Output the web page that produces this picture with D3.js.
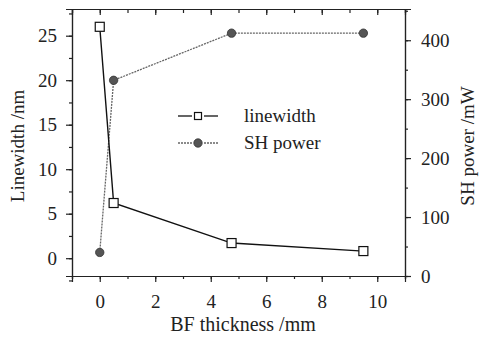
<!DOCTYPE html>
<meta charset="utf-8">
<style>
body { margin: 0; background: #fff; }
.axis path, .axis line { stroke: #222; stroke-width: 1.2; }
</style>
<body>
<svg width="479" height="338"></svg>
<script src="https://d3js.org/d3.v7.min.js"></script>
<script>
var svg = d3.select("svg");
var serif = "'Liberation Serif', 'Times New Roman', 'DejaVu Serif', serif";

// data
var thickness = [0, 0.5, 4.75, 9.5];
var linewidth = [26, 6.2, 1.7, 0.8];
var shPower = [40, 332, 412, 412];
var xTicks = [0, 2, 4, 6, 8, 10];
var yTicks = [0, 5, 10, 15, 20, 25];
var y2Ticks = [0, 100, 200, 300, 400];
var seriesNames = ["linewidth", "SH power"];

var pLeft = 72, pRight = 405, pTop = 9, pBottom = 276;

var x = d3.scaleLinear().domain([-1, 11]).range([pLeft, pRight]);
var y = d3.scaleLinear().domain([-2, 28]).range([pBottom, pTop]);
var y2 = d3.scaleLinear().domain([0, 453]).range([pBottom, pTop]);

// minor ticks first (no labels)
svg.append("g").attr("class", "axis")
  .attr("transform", "translate(0," + pBottom + ")")
  .call(d3.axisBottom(x).tickValues(d3.range(-1, 12, 1)).tickSize(3).tickFormat(""));
svg.append("g").attr("class", "axis")
  .attr("transform", "translate(0," + pTop + ")")
  .call(d3.axisTop(x).tickValues(d3.range(-1, 12, 1)).tickSize(-4).tickFormat(""));
svg.append("g").attr("class", "axis")
  .attr("transform", "translate(" + pLeft + ",0)")
  .call(d3.axisLeft(y).tickValues(d3.range(-2.5, 28, 2.5)).tickSize(3).tickFormat(""));
svg.append("g").attr("class", "axis")
  .attr("transform", "translate(" + pRight + ",0)")
  .call(d3.axisRight(y2).tickValues(d3.range(0, 451, 50)).tickSize(3).tickFormat(""));

// major ticks
svg.append("g").attr("class", "axis")
  .attr("transform", "translate(0," + pBottom + ")")
  .call(d3.axisBottom(x).tickValues(xTicks).tickSize(6).tickPadding(13));
svg.append("g").attr("class", "axis")
  .attr("transform", "translate(0," + pTop + ")")
  .call(d3.axisTop(x).tickValues(xTicks).tickSize(-6).tickFormat(""));
svg.append("g").attr("class", "axis")
  .attr("transform", "translate(" + pLeft + ",0)")
  .call(d3.axisLeft(y).tickValues(yTicks).tickSize(6).tickPadding(9));
svg.append("g").attr("class", "axis")
  .attr("transform", "translate(" + pRight + ",0)")
  .call(d3.axisRight(y2).tickValues(y2Ticks).tickSize(6).tickPadding(10));

svg.selectAll(".axis").attr("font-family", null).attr("font-size", null);
svg.selectAll(".axis text").style("font-size", "19px").style("font-family", serif).attr("fill", "#222");

// axis titles
svg.append("text").attr("x", 243).attr("y", 331).attr("text-anchor", "middle")
  .style("font-size", "20px").style("font-family", serif).attr("fill", "#222").text("BF thickness /mm");
svg.append("text").attr("transform", "translate(24,146) rotate(-90)")
  .attr("text-anchor", "middle").style("font-size", "19px").style("font-family", serif)
  .attr("fill", "#222").text("Linewidth /nm");
svg.append("text").attr("transform", "translate(474,146) rotate(-90)")
  .attr("text-anchor", "middle").style("font-size", "19px").style("font-family", serif)
  .attr("fill", "#222").text("SH power /mW");

// SH power series (dotted gray line, dark round markers)
var pts2 = thickness.map(function(d, i) { return [d, shPower[i]]; });
svg.append("path").datum(pts2)
  .attr("fill", "none").attr("stroke", "#666").attr("stroke-width", 1.3)
  .attr("stroke-dasharray", "2,1")
  .attr("d", d3.line().x(function(d) { return x(d[0]); }).y(function(d) { return y2(d[1]); }));
svg.selectAll("circle.sh").data(pts2).enter().append("circle")
  .attr("class", "sh")
  .attr("cx", function(d) { return x(d[0]); })
  .attr("cy", function(d) { return y2(d[1]); })
  .attr("r", 4.2).attr("fill", "#555").attr("stroke", "#333").attr("stroke-width", 0.8);

// linewidth series (solid black line, open squares)
var pts1 = thickness.map(function(d, i) { return [d, linewidth[i]]; });
svg.append("path").datum(pts1)
  .attr("fill", "none").attr("stroke", "#111").attr("stroke-width", 1.4)
  .attr("d", d3.line().x(function(d) { return x(d[0]); }).y(function(d) { return y(d[1]); }));
svg.selectAll("rect.lw").data(pts1).enter().append("rect")
  .attr("class", "lw")
  .attr("x", function(d) { return x(d[0]) - 4.5; })
  .attr("y", function(d) { return y(d[1]) - 4.5; })
  .attr("width", 9).attr("height", 9)
  .attr("fill", "#fff").attr("stroke", "#111").attr("stroke-width", 1.2);

// legend
var leg = svg.append("g").attr("transform", "translate(178,116)");
seriesNames.forEach(function(name, i) {
  var g = leg.append("g").attr("transform", "translate(0," + (i * 27) + ")");
  var col = i ? "#666" : "#111";
  g.append("line").attr("x1", 0).attr("x2", 14).attr("y1", 0).attr("y2", 0)
    .attr("stroke", col).attr("stroke-width", 1.3)
    .attr("stroke-dasharray", i ? "2,1" : null);
  g.append("line").attr("x1", 26).attr("x2", 40).attr("y1", 0).attr("y2", 0)
    .attr("stroke", col).attr("stroke-width", 1.3)
    .attr("stroke-dasharray", i ? "2,1" : null);
  if (i) {
    g.append("circle").attr("cx", 20).attr("cy", 0).attr("r", 4.2)
      .attr("fill", "#555").attr("stroke", "#333").attr("stroke-width", 0.8);
  } else {
    g.append("rect").attr("x", 16.5).attr("y", -3.5).attr("width", 7).attr("height", 7)
      .attr("fill", "#fff").attr("stroke", "#111").attr("stroke-width", 1.2);
  }
  g.append("text").attr("x", 66).attr("y", 6).style("font-size", "19px")
    .style("font-family", serif).attr("fill", "#222").text(name);
});
</script>
</body>
</html>
